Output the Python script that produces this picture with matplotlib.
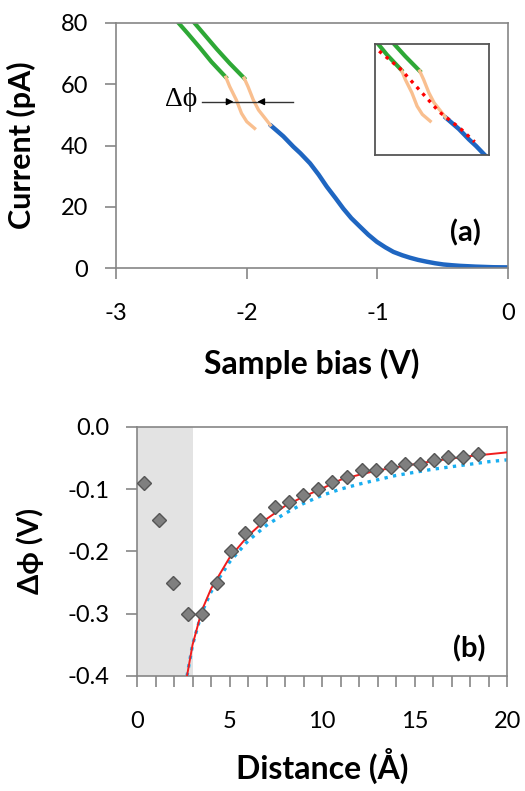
import numpy as np
import matplotlib.pyplot as plt

plt.rcParams['font.family'] = ['Lato', 'DejaVu Sans']
plt.rcParams['axes.unicode_minus'] = False

# ---- panel (a) data: current vs sample bias
blue_v = [-1.82, -1.72, -1.643, -1.59, -1.516, -1.45, -1.388, -1.32, -1.261, -1.20, -1.133, -1.07,
          -1.005, -0.94, -0.878, -0.81, -0.751, -0.69, -0.623, -0.56, -0.496, -0.43, -0.368, -0.25, -0.113, 0.0]
blue_i = [46.7, 43.0, 39.6, 37.5, 34.2, 30.5, 26.6, 22.8, 19.4, 16.3, 13.5, 10.9,
          8.6, 6.8, 5.3, 4.2, 3.4, 2.7, 2.1, 1.6, 1.2, 0.95, 0.75, 0.5, 0.3, 0.25]

green1_v = [-2.53, -2.45, -2.36, -2.27, -2.16]
green1_i = [80.4, 76.5, 72.0, 67.3, 62.3]
green2_v = [-2.40, -2.32, -2.23, -2.13, -2.02]
green2_i = [80.0, 76.0, 71.5, 66.8, 62.0]

orange1_v = [-2.16, -2.13, -2.08, -2.04, -2.00, -1.94]
orange1_i = [62.3, 59.2, 54.9, 50.5, 47.8, 45.6]
orange2_v = [-2.02, -1.99, -1.95, -1.91, -1.86, -1.82]
orange2_i = [62.0, 59.2, 54.9, 51.6, 48.9, 46.7]

fit_v = [-2.33, -2.17, -2.02, -1.87, -1.71, -1.60]
fit_i = [68.5, 62.8, 55.7, 48.6, 43.2, 38.8]

# ---- panel (b) data: work function shift vs distance
dist = [0.38, 1.19, 1.96, 2.74, 3.53, 4.31, 5.08, 5.86, 6.67, 7.44, 8.22, 8.99, 9.78, 10.56,
        11.34, 12.15, 12.91, 13.72, 14.49, 15.27, 16.06, 16.83, 17.64, 18.42]
dphi = [-0.09, -0.15, -0.25, -0.30, -0.30, -0.25, -0.20, -0.171, -0.15, -0.129, -0.12, -0.11, -0.10, -0.089,
        -0.080, -0.069, -0.069, -0.065, -0.059, -0.059, -0.053, -0.049, -0.049, -0.043]

red_x = [2.7, 3.0, 3.5, 4.0, 4.5, 5.0, 6.0, 7.0, 8.0, 9.0, 10, 11, 12, 13, 14, 15, 16, 17, 18, 19, 20]
red_y = [-0.40, -0.35, -0.295, -0.26, -0.235, -0.21, -0.175, -0.148, -0.127, -0.112, -0.099,
         -0.085, -0.077, -0.070, -0.065, -0.060, -0.055, -0.051, -0.047, -0.044, -0.041]
cyan_x = [2.7, 3.0, 3.5, 4.0, 4.5, 5.0, 6.0, 7.0, 8.0, 9.0, 10, 11, 12, 13, 14, 15, 16, 17, 18, 19, 20]
cyan_y = [-0.40, -0.35, -0.298, -0.265, -0.24, -0.217, -0.183, -0.158, -0.139, -0.123, -0.11,
          -0.10, -0.092, -0.085, -0.078, -0.073, -0.068, -0.064, -0.060, -0.056, -0.053]

BLUE = '#1f66c1'
GREEN = '#2ea836'
ORANGE = '#f9bf8f'
SPINE = '#868686'

fig = plt.figure(figsize=(5.25, 7.91), dpi=100)


def style_axes(ax):
    for s in ax.spines.values():
        s.set_color(SPINE)
        s.set_linewidth(1.2)
    ax.tick_params(which='both', direction='out', color=SPINE, width=1.2, labelsize=17)
    ax.tick_params(which='both', length=8)
    ax.tick_params(axis='x', pad=17)
    ax.tick_params(axis='y', pad=12)


# ---------- panel (a)
ax1 = fig.add_axes([0.221, 0.661, 0.747, 0.310])
ax1.plot(blue_v, blue_i, color=BLUE, lw=3.2, solid_capstyle='round')
ax1.plot(green1_v, green1_i, color=GREEN, lw=3.0)
ax1.plot(green2_v, green2_i, color=GREEN, lw=3.0)
ax1.plot(orange1_v, orange1_i, color=ORANGE, lw=2.4)
ax1.plot(orange2_v, orange2_i, color=ORANGE, lw=2.4)
ax1.set_xlim(-3, 0)
ax1.set_ylim(0, 80)
ax1.set_xticks([-3, -2, -1, 0])
ax1.set_yticks([0, 20, 40, 60, 80])
style_axes(ax1)
ax1.set_xlabel('Sample bias (V)', fontsize=23, fontweight='bold')
ax1.set_ylabel('Current (pA)', fontsize=22, fontweight='bold')
ax1.xaxis.set_label_coords(0.5, -0.325)
ax1.yaxis.set_label_coords(-0.205, 0.5)
ax1.text(-0.33, 11.4, '(a)', fontsize=21, fontweight='bold', ha='center', va='center')

# delta phi marker
ax1.plot([-2.34, -1.65], [54.3, 54.3], color='#333333', lw=1)
ax1.annotate('', xy=(-2.08, 54.3), xytext=(-2.16, 54.3),
             arrowprops=dict(arrowstyle='-|>', color='black', lw=1, mutation_scale=10))
ax1.annotate('', xy=(-1.94, 54.3), xytext=(-1.86, 54.3),
             arrowprops=dict(arrowstyle='-|>', color='black', lw=1, mutation_scale=10))
ax1.text(-2.38, 55.0, '\u0394\u03d5', fontsize=20, family=['Liberation Serif', 'DejaVu Serif'],
         ha='right', va='center')

# inset
axi = fig.add_axes([0.714, 0.804, 0.218, 0.141])
axi.plot(blue_v, blue_i, color=BLUE, lw=3.2)
axi.plot(green1_v, green1_i, color=GREEN, lw=3.0)
axi.plot(green2_v, green2_i, color=GREEN, lw=3.0)
axi.plot(orange1_v, orange1_i, color=ORANGE, lw=2.4)
axi.plot(orange2_v, orange2_i, color=ORANGE, lw=2.4)
axi.plot(fit_v, fit_i, color='red', lw=2.4, linestyle=(0, (1, 1.6)))
axi.set_xlim(-2.363, -1.488)
axi.set_ylim(34.5, 71)
axi.set_xticks([])
axi.set_yticks([])
for s in axi.spines.values():
    s.set_color('#555555')
    s.set_linewidth(1.3)

# ---------- panel (b)
ax2 = fig.add_axes([0.261, 0.1454, 0.705, 0.315])
ax2.axvspan(0, 3, color='#e3e3e3', lw=0, zorder=0)
ax2.plot(cyan_x, cyan_y, color='#19aef0', lw=2.4, linestyle=(0, (1, 1.6)), zorder=2)
ax2.plot(red_x, red_y, color='#f01d1d', lw=1.4, zorder=3)
ax2.plot(dist, dphi, linestyle='none', marker='D', ms=7, color='#7f7f7f',
         markeredgecolor='#555555', markeredgewidth=1, zorder=4)
ax2.set_xlim(0, 20)
ax2.set_ylim(-0.4, 0.0)
ax2.set_xticks([0, 5, 10, 15, 20])
ax2.set_xticks(np.arange(0, 21, 1), minor=True)
ax2.set_yticks([0.0, -0.1, -0.2, -0.3, -0.4])
ax2.set_yticklabels(['0.0', '-0.1', '-0.2', '-0.3', '-0.4'])
style_axes(ax2)
ax2.set_xlabel('Distance (\u00c5)', fontsize=23, fontweight='bold')
ax2.set_ylabel('\u0394\u03d5 (V)', fontsize=21, fontweight='bold')
ax2.xaxis.set_label_coords(0.5, -0.29)
ax2.yaxis.set_label_coords(-0.25, 0.5)
ax2.text(17.96, -0.357, '(b)', fontsize=21, fontweight='bold', ha='center', va='center')

fig.savefig('out.png', dpi=100)
